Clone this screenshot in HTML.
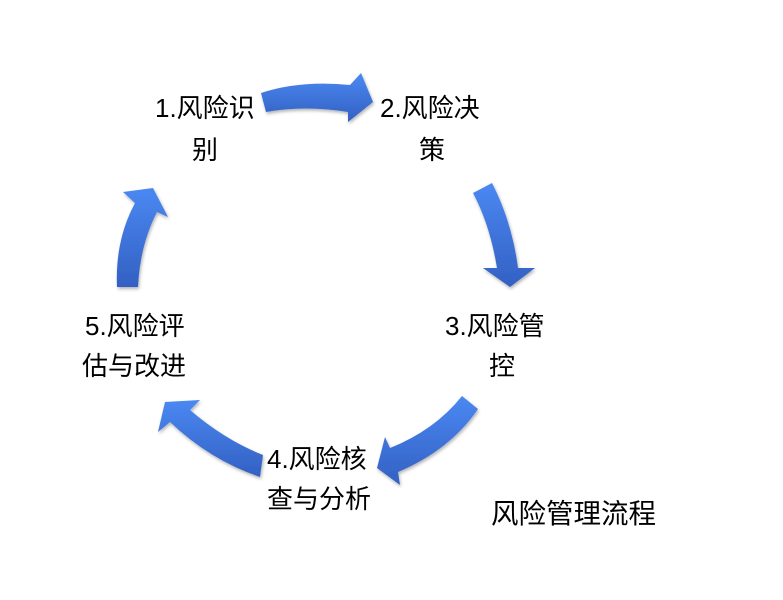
<!DOCTYPE html>
<html><head><meta charset="utf-8"><style>
body{margin:0;background:#fff;}
svg text{font-family:"Liberation Sans","Noto Sans CJK SC",sans-serif;fill:#000;}
</style></head><body>
<svg width="783" height="595" viewBox="0 0 783 595" xmlns="http://www.w3.org/2000/svg">
<defs>
<linearGradient id="g" x1="0" y1="0" x2="0" y2="1">
<stop offset="0" stop-color="#4a88f2"/><stop offset="1" stop-color="#3360c2"/>
</linearGradient>
<filter id="s" x="-20%" y="-20%" width="140%" height="140%"><feDropShadow dx="1" dy="2" stdDeviation="1.5" flood-color="#000" flood-opacity="0.3"/></filter>
</defs>
<g fill="url(#g)" filter="url(#s)">
<path d="M261,93 Q300,80 350,85 L361,73 L373,102 L348,122 L348,112 Q305,105 266,112 Z"/>
<path d="M473,193 Q490,225 497,268 L483,268 L510,287 L535,268 L518,268 Q512,222 492,183 Z"/>
<path d="M462,396 Q435,430 390,448 L385,437 L377,468 L400,485 L398,472 Q450,450 478,409 Z"/>
<path d="M263,455 Q225,440 190,410 L200,400 L165,402 L158,432 L170,422 Q210,460 260,477 Z"/>
<path d="M117,287 Q115,240 135,203 L123,192 L153,188 L168,217 L157,212 Q140,245 138,287 Z"/>
</g>
<g font-size="26">
<text x="155" y="117">1.风险识</text>
<text x="192" y="159">别</text>
<text x="380" y="117">2.风险决</text>
<text x="419" y="159">策</text>
<text x="445" y="335">3.风险管</text>
<text x="489" y="375">控</text>
<text x="85" y="335">5.风险评</text>
<text x="82" y="375">估与改进</text>
<text x="267" y="468">4.风险核</text>
<text x="267" y="508">查与分析</text>
</g>
<text x="491" y="523" font-size="27.5">风险管理流程</text>
</svg>
</body></html>
